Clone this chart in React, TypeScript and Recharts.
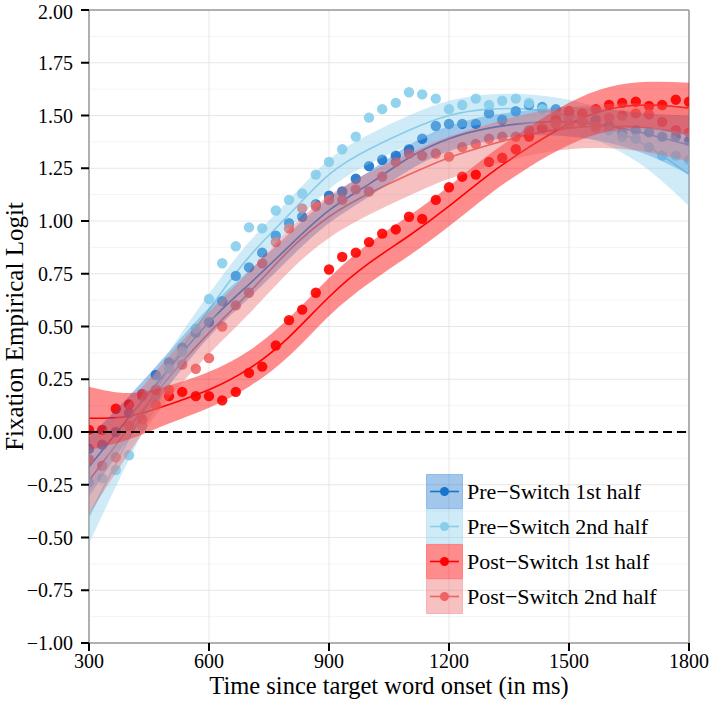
import {
  ComposedChart,
  Scatter,
  Line,
  Area,
  XAxis,
  YAxis,
  CartesianGrid,
  ReferenceLine,
  Legend,
} from "recharts";

// time bins (ms) for the observed points
const binTimes = [
  300, 333, 367, 400, 433, 467, 500, 533, 567, 600, 633, 667, 700, 733, 767, 800,
  833, 867, 900, 933, 967, 1000, 1033, 1067, 1100, 1133, 1167, 1200, 1233, 1267,
  1300, 1333, 1367, 1400, 1433, 1467, 1500, 1533, 1567, 1600, 1633, 1667, 1700,
  1733, 1767, 1800,
];

const pre1Points = [
  -0.08, -0.06, 0.0, 0.09, 0.17, 0.27, 0.33, 0.4, 0.47, 0.52, 0.62, 0.74, 0.78, 0.85,
  0.93, 0.99, 1.02, 1.08, 1.12, 1.14, 1.2, 1.26, 1.29, 1.31, 1.34, 1.39, 1.45, 1.46,
  1.46, 1.46, 1.51, 1.48, 1.52, 1.55, 1.54, 1.53, 1.5, 1.47, 1.48, 1.45, 1.42, 1.43,
  1.42, 1.4, 1.4, 1.38,
];
const pre2Points = [
  -0.24, -0.22, -0.18, -0.11, 0.03, 0.17, 0.3, 0.38, 0.49, 0.63, 0.8, 0.88, 0.97,
  0.965, 1.05, 1.1, 1.13, 1.22, 1.28, 1.34, 1.4, 1.49, 1.53, 1.56, 1.61, 1.6, 1.58,
  1.53, 1.55, 1.58, 1.55, 1.57, 1.58, 1.56, 1.53, 1.5, 1.49, 1.47, 1.44, 1.43, 1.4,
  1.39, 1.35, 1.31, 1.31, 1.29,
];
const post1Points = [
  0.01, 0.01, 0.11, 0.13, 0.18, 0.2, 0.17, 0.19, 0.17, 0.17, 0.15, 0.19, 0.28, 0.31,
  0.41, 0.53, 0.58, 0.66, 0.77, 0.83, 0.85, 0.9, 0.94, 0.96, 1.02, 1.01, 1.1, 1.16,
  1.21, 1.22, 1.28, 1.3, 1.34, 1.4, 1.44, 1.48, 1.52, 1.51, 1.53, 1.55, 1.56, 1.565,
  1.545, 1.55, 1.575, 1.565,
];
const post2Points = [
  -0.13, -0.16, -0.12, 0.03, 0.06, 0.13, 0.2, 0.32, 0.3, 0.35, 0.5, 0.6, 0.66, 0.8,
  0.9, 0.965, 1.06, 1.07, 1.1, 1.1, 1.15, 1.14, 1.21, 1.28, 1.32, 1.31, 1.32, 1.305,
  1.35, 1.365, 1.39, 1.4, 1.4, 1.43, 1.44, 1.46, 1.46, 1.47, 1.45, 1.49, 1.5, 1.51,
  1.505, 1.47, 1.43, 1.42,
];

// model fits + confidence ribbons, read every 100 ms
const fitTimes = [
  300, 400, 500, 600, 700, 800, 900, 1000, 1100, 1200, 1300, 1400, 1500, 1600, 1700, 1800,
];

const pre1Fit = [-0.165, 0.07, 0.3, 0.52, 0.7, 0.88, 1.05, 1.175, 1.3, 1.39, 1.44, 1.465, 1.47, 1.45, 1.41, 1.36];
const pre1Lower = [-0.305, -0.03, 0.22, 0.45, 0.635, 0.82, 0.99, 1.115, 1.24, 1.33, 1.38, 1.405, 1.4, 1.37, 1.31, 1.22];
const pre1Upper = [-0.025, 0.17, 0.38, 0.59, 0.765, 0.94, 1.11, 1.235, 1.36, 1.45, 1.5, 1.525, 1.54, 1.53, 1.51, 1.5];

const pre2Fit = [-0.4, -0.03, 0.3, 0.58, 0.83, 1.03, 1.22, 1.34, 1.43, 1.5, 1.53, 1.53, 1.5, 1.44, 1.35, 1.22];
const pre2Lower = [-0.53, -0.13, 0.22, 0.505, 0.76, 0.96, 1.15, 1.27, 1.36, 1.43, 1.46, 1.46, 1.425, 1.355, 1.24, 1.07];
const pre2Upper = [-0.27, 0.07, 0.38, 0.655, 0.9, 1.1, 1.29, 1.41, 1.5, 1.57, 1.6, 1.6, 1.575, 1.525, 1.46, 1.37];

const post1Fit = [0.065, 0.075, 0.13, 0.2, 0.3, 0.45, 0.64, 0.8, 0.93, 1.07, 1.22, 1.35, 1.46, 1.53, 1.55, 1.535];
const post1Lower = [-0.085, -0.035, 0.04, 0.115, 0.215, 0.36, 0.55, 0.705, 0.835, 0.975, 1.125, 1.255, 1.36, 1.425, 1.44, 1.415];
const post1Upper = [0.215, 0.185, 0.22, 0.285, 0.385, 0.54, 0.73, 0.895, 1.025, 1.165, 1.315, 1.445, 1.56, 1.635, 1.66, 1.655];

const post2Fit = [-0.23, 0.02, 0.26, 0.47, 0.66, 0.86, 1.02, 1.13, 1.22, 1.3, 1.36, 1.41, 1.44, 1.45, 1.44, 1.41];
const post2Lower = [-0.39, -0.1, 0.16, 0.37, 0.56, 0.76, 0.92, 1.03, 1.12, 1.2, 1.26, 1.31, 1.34, 1.345, 1.325, 1.28];
const post2Upper = [-0.07, 0.14, 0.36, 0.57, 0.76, 0.96, 1.12, 1.23, 1.32, 1.4, 1.46, 1.51, 1.54, 1.555, 1.555, 1.54];

const xTicks = [300, 600, 900, 1200, 1500, 1800];
const yTicks = [-1, -0.75, -0.5, -0.25, 0, 0.25, 0.5, 0.75, 1, 1.25, 1.5, 1.75, 2];
const yMinor = [-0.875, -0.625, -0.375, -0.125, 0.125, 0.375, 0.625, 0.875, 1.125, 1.375, 1.625, 1.875];

const FONT = "'Liberation Serif', 'Times New Roman', serif";

const series = [
  { name: "Pre\u2212Switch 1st half", color: "#1874CD", alpha: 0.4, pts: pre1Points, fit: pre1Fit, lo: pre1Lower, hi: pre1Upper },
  { name: "Pre\u2212Switch 2nd half", color: "#87CEEB", alpha: 0.4, pts: pre2Points, fit: pre2Fit, lo: pre2Lower, hi: pre2Upper },
  { name: "Post\u2212Switch 1st half", color: "#FF0000", alpha: 0.45, pts: post1Points, fit: post1Fit, lo: post1Lower, hi: post1Upper },
  { name: "Post\u2212Switch 2nd half", color: "#EE6363", alpha: 0.4, pts: post2Points, fit: post2Fit, lo: post2Lower, hi: post2Upper },
].map((s) => ({
  ...s,
  points: binTimes.map((t, i) => ({ t, v: s.pts[i] })),
  rows: fitTimes.map((t, i) => ({ t, fit: s.fit[i], band: [s.lo[i], s.hi[i]] })),
}));

const fmtY = (v: number) => (v < 0 ? "\u2212" : "") + Math.abs(v).toFixed(2);

function LegendBox() {
  return (
    <div style={{ fontFamily: FONT, fontSize: 22, color: "#000" }}>
      {series.map((s) => (
        <div key={s.name} style={{ display: "flex", alignItems: "center", height: 35 }}>
          <svg width={37} height={35} style={{ display: "block" }}>
            <rect x={0.5} y={0.5} width={36} height={34} fill={s.color} fillOpacity={s.alpha} stroke={s.color} strokeOpacity={0.35} />
            <line x1={4} x2={33} y1={17.5} y2={17.5} stroke={s.color} strokeWidth={1.6} />
            <circle cx={18.5} cy={17.5} r={4.5} fill={s.color} />
          </svg>
          <span style={{ marginLeft: 4, whiteSpace: "nowrap" }}>{s.name}</span>
        </div>
      ))}
    </div>
  );
}

export default function App() {
  return (
    <div style={{ position: "absolute", left: 0, top: 0, width: 712, height: 705, background: "#fff", fontFamily: FONT }}>
      <ComposedChart width={712} height={705} margin={{ top: 10, right: 23, left: 0, bottom: 0 }}>
        <CartesianGrid horizontalValues={yMinor} vertical={false} stroke="#f4f4f4" strokeWidth={1} />
        <CartesianGrid stroke="#e6e6e6" strokeWidth={1} />
        <XAxis
          type="number"
          dataKey="t"
          domain={[300, 1800]}
          ticks={xTicks}
          allowDataOverflow
          height={62}
          tickSize={8}
          tickMargin={3}
          axisLine={{ stroke: "#9a9a9a", strokeWidth: 1.5 }}
          tickLine={{ stroke: "#000", strokeWidth: 2 }}
          tick={{ fill: "#000", fontFamily: FONT, fontSize: 20 }}
          label={{
            value: "Time since target word onset (in ms)",
            position: "insideBottom",
            offset: 11,
            style: { fill: "#000", fontFamily: FONT, fontSize: 24.5 },
          }}
        />
        <YAxis
          type="number"
          domain={[-1, 2]}
          ticks={yTicks}
          allowDataOverflow
          width={89}
          tickSize={8}
          tickMargin={8}
          tickFormatter={fmtY}
          axisLine={{ stroke: "#9a9a9a", strokeWidth: 1.5 }}
          tickLine={{ stroke: "#000", strokeWidth: 2 }}
          tick={{ fill: "#000", fontFamily: FONT, fontSize: 20 }}
          label={{
            value: "Fixation Empirical Logit",
            angle: -90,
            position: "insideLeft",
            offset: 14,
            style: { fill: "#000", fontFamily: FONT, fontSize: 25, textAnchor: "middle" },
          }}
        />
        {series.map((s) => (
          <Scatter
            key={"p" + s.name}
            data={s.points}
            dataKey="v"
            isAnimationActive={false}
            shape={(p: any) => <circle cx={p.cx} cy={p.cy} r={5.2} fill={s.color} fillOpacity={0.9} />}
          />
        ))}
        {series.map((s) => (
          <Line
            key={"l" + s.name}
            data={s.rows}
            dataKey="fit"
            type="natural"
            stroke={s.color}
            strokeWidth={1.6}
            dot={false}
            activeDot={false}
            isAnimationActive={false}
          />
        ))}
        {series.map((s) => (
          <Area
            key={"a" + s.name}
            data={s.rows}
            dataKey="band"
            type="natural"
            stroke="none"
            fill={s.color}
            fillOpacity={s.alpha}
            activeDot={false}
            isAnimationActive={false}
            zIndex={650}
          />
        ))}
        <ReferenceLine y={0} stroke="#000" strokeWidth={2} strokeDasharray="9 5" zIndex={700} />
        <ReferenceLine y={2} stroke="#9a9a9a" strokeWidth={1.5} />
        <ReferenceLine x={1800} stroke="#9a9a9a" strokeWidth={1.5} />
        <Legend
          layout="vertical"
          align="center"
          verticalAlign="middle"
          content={() => <LegendBox />}
          wrapperStyle={{ position: "absolute", left: 426, top: 474, width: "auto", height: "auto" }}
        />
      </ComposedChart>
    </div>
  );
}
